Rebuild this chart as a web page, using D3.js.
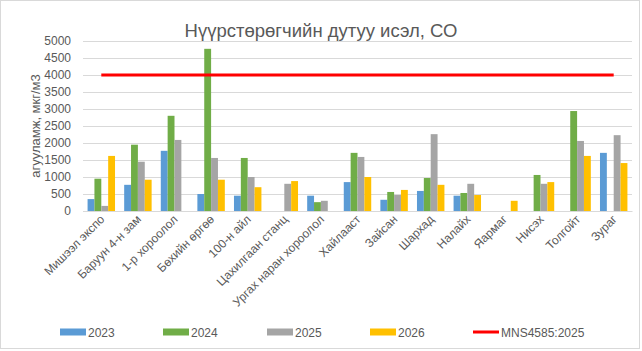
<!DOCTYPE html>
<html>
<head>
<meta charset="utf-8">
<script src="https://cdn.jsdelivr.net/npm/d3@7"></script>
<style>
  body { margin: 0; background: #fff; }
  text { font-family: "Liberation Sans", Arial, sans-serif; fill: #595959; }
</style>
</head>
<body>
<div id="chart"></div>
<script>
// data
var stations = ['Мишээл экспо', 'Баруун 4-н зам', '1-р хороолол', 'Бөхийн өргөө', '100-н айл',
  'Цахилгаан станц', 'Ургах наран хороолол', 'Хайлааст', 'Зайсан', 'Шархад', 'Налайх',
  'Яармаг', 'Нисэх', 'Толгойт', 'Зураг'];
var years = ['2023', '2024', '2025', '2026'];
var v2023 = [350, 770, 1770, 500, 450, null, 450, 850, 330, 590, 450, null, null, null, 1710];
var v2024 = [950, 1950, 2800, 4770, 1560, null, 260, 1710, 560, 970, 530, null, 1060, 2940, null];
var v2025 = [150, 1450, 2090, 1560, 1000, 800, 300, 1590, 470, 2260, 800, null, 800, 2060, 2230];
var v2026 = [1620, 920, null, 920, 700, 880, null, 1000, 620, 770, 470, 300, 850, 1620, 1410];
var limitName = 'MNS4585:2025';
var limitValue = 4000;
var yTicks = [0, 500, 1000, 1500, 2000, 2500, 3000, 3500, 4000, 4500, 5000];

var series = [v2023, v2024, v2025, v2026];
var colors = ['#5b9bd5', '#70ad47', '#a5a5a5', '#ffc000'];

var width = 642, height = 351;
var margin = { top: 41, right: 10, bottom: 140, left: 83 };

var svg = d3.select('#chart').append('svg')
  .attr('width', width)
  .attr('height', height);

// outer frame
svg.append('rect')
  .attr('x', 0.5).attr('y', 0.5)
  .attr('width', width - 3).attr('height', height - 3)
  .attr('fill', 'none').attr('stroke', '#d9d9d9');

var x = d3.scaleBand()
  .domain(stations)
  .range([margin.left, 632])
  .paddingInner(0.25)
  .paddingOuter(0.125);

var xs = d3.scaleBand()
  .domain(years)
  .range([0, x.bandwidth()]);

var y = d3.scaleLinear()
  .domain([0, 5000])
  .range([211, margin.top]);

// grid + y labels
var yAxis = svg.append('g')
  .attr('transform', 'translate(' + margin.left + ',0)')
  .call(d3.axisLeft(y).tickValues(yTicks).tickFormat(d3.format('d'))
    .tickSize(-(632 - margin.left)).tickPadding(12))
  .call(function (g) { g.select('.domain').remove(); });
yAxis.selectAll('line').attr('stroke', '#d9d9d9');
yAxis.selectAll('text').style('font-size', '12px').attr('fill', '#595959');

// bars
series.forEach(function (vals, si) {
  svg.append('g').selectAll('rect')
    .data(stations.map(function (s, i) { return { s: s, v: vals[i] }; }).filter(function (d) { return d.v != null; }))
    .join('rect')
    .attr('x', function (d) { return x(d.s) + xs(years[si]); })
    .attr('y', function (d) { return y(d.v); })
    .attr('width', xs.bandwidth())
    .attr('height', function (d) { return y(0) - y(d.v); })
    .attr('fill', colors[si]);
});

// limit line
svg.append('path')
  .datum(stations)
  .attr('d', d3.line()
    .x(function (d) { return x(d) + x.bandwidth() / 2; })
    .y(function () { return y(limitValue); }))
  .attr('stroke', '#ff0000')
  .attr('stroke-width', 3)
  .attr('fill', 'none');

// x axis labels
var xAxis = svg.append('g')
  .attr('transform', 'translate(0,' + y(0) + ')')
  .call(d3.axisBottom(x).tickSize(0).tickPadding(0));
xAxis.select('.domain').attr('stroke', '#d9d9d9');
xAxis.selectAll('text')
  .style('font-size', '12px')
  .attr('fill', '#595959')
  .attr('text-anchor', 'end')
  .attr('dy', 0)
  .attr('transform', 'translate(4,9) rotate(-45)');

// titles
svg.append('text')
  .attr('x', 321).attr('y', 37)
  .attr('text-anchor', 'middle')
  .style('font-size', '18.5px')
  .text('Нүүрстөрөгчийн дутуу исэл, СО');

svg.append('text')
  .attr('transform', 'translate(40,126) rotate(-90)')
  .attr('text-anchor', 'middle')
  .style('font-size', '13px')
  .text('агууламж, мкг/м3');

// legend
var legendX = [60, 163, 267, 370, 473];
var legendLabels = years.concat([limitName]);
var lg = svg.append('g').selectAll('g')
  .data(legendLabels)
  .join('g')
  .attr('transform', function (d, i) { return 'translate(' + legendX[i] + ',332)'; });
lg.append('rect')
  .attr('x', 0).attr('y', function (d, i) { return i < 4 ? -3.5 : -1.5; })
  .attr('width', 26).attr('height', function (d, i) { return i < 4 ? 7 : 3; })
  .attr('fill', function (d, i) { return i < 4 ? colors[i] : '#ff0000'; });
lg.append('text')
  .attr('x', 28).attr('y', 4.5)
  .style('font-size', '12px')
  .text(function (d) { return d; });
</script>
</body>
</html>
